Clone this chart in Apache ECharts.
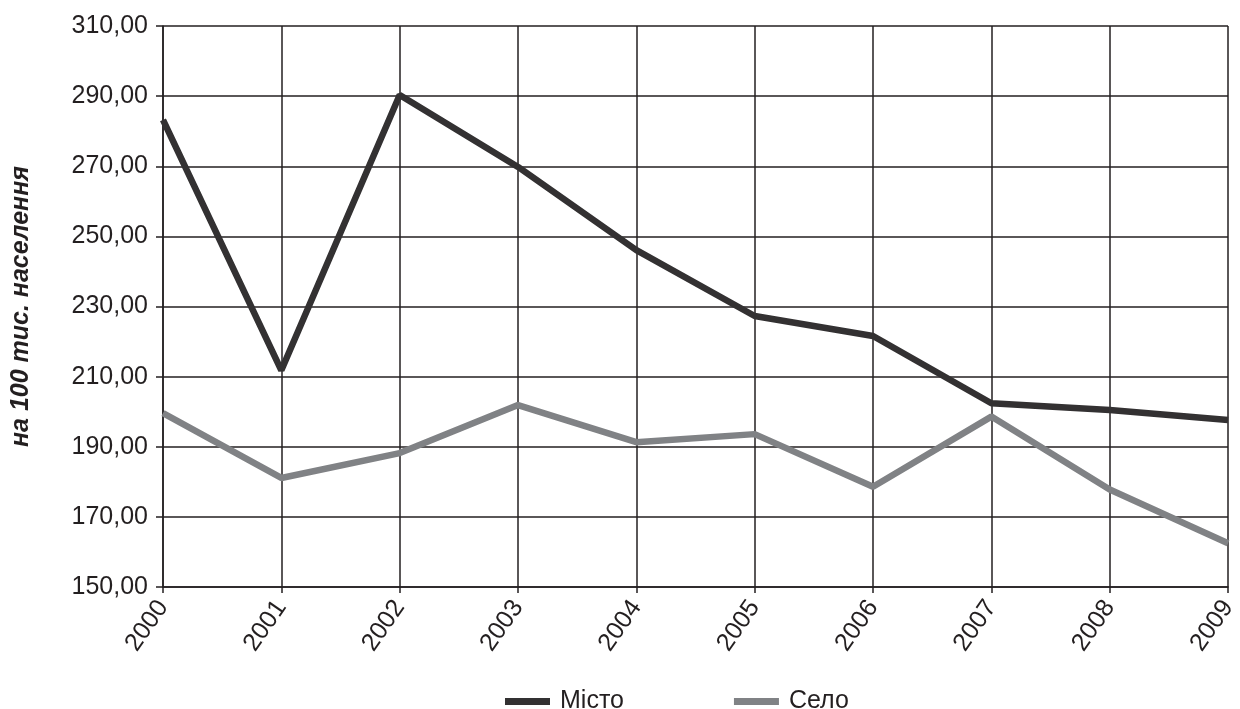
<!DOCTYPE html>
<html>
<head>
<meta charset="utf-8">
<script src="https://cdn.jsdelivr.net/npm/echarts@6/dist/echarts.min.js"></script>
<style>html,body{margin:0;padding:0;background:#fff}#c{width:1240px;height:709px}</style>
</head>
<body>
<div id="c"></div>
<script>
const years = ['2000','2001','2002','2003','2004','2005','2006','2007','2008','2009'];
const misto = [283.2, 211.8, 290.3, 269.8, 246.1, 227.3, 221.6, 202.4, 200.5, 197.6];
const selo = [199.6, 181.1, 188.2, 201.9, 191.3, 193.6, 178.6, 198.6, 177.8, 162.5];
const yTicks = {min: 150, max: 310, interval: 20};
const seriesNames = ['Місто', 'Село'];
const yAxisName = 'на 100 тис. населення';

const chart = echarts.init(document.getElementById('c'));
const font = 'Liberation Sans, Arial, sans-serif';
chart.setOption({
  animation: false,
  backgroundColor: '#fff',
  grid: {left: 163, right: 9, top: 26, bottom: 122},
  legend: {
    top: 684, left: 500,
    itemGap: 110, itemWidth: 45, itemHeight: 7,
    icon: 'rect',
    textStyle: {fontFamily: font, fontSize: 25, color: '#231f20', padding: [0,0,0,5]},
    data: seriesNames
  },
  xAxis: {
    type: 'category', data: years, boundaryGap: false,
    axisLine: {lineStyle: {color: '#231f20', width: 1.5}},
    axisTick: {show: true, length: 6, alignWithLabel: true, lineStyle: {color: '#231f20', width: 1.5}},
    splitLine: {show: true, lineStyle: {color: '#231f20', width: 1.5}},
    axisLabel: {rotate: 55, fontFamily: font, fontSize: 25, color: '#231f20', margin: 16}
  },
  yAxis: {
    type: 'value', min: yTicks.min, max: yTicks.max, interval: yTicks.interval,
    name: yAxisName, nameLocation: 'middle', nameGap: 129,
    nameTextStyle: {fontFamily: font, fontSize: 25, fontStyle: 'italic', fontWeight: 'bold', color: '#231f20'},
    axisLine: {show: true, lineStyle: {color: '#231f20', width: 1.5}},
    axisTick: {show: true, length: 7, lineStyle: {color: '#231f20', width: 1.5}},
    splitLine: {show: true, lineStyle: {color: '#231f20', width: 1.5}},
    axisLabel: {fontFamily: font, fontSize: 25, color: '#231f20', margin: 15,
      formatter: v => v.toFixed(2).replace('.', ',')}
  },
  series: [
    {name: seriesNames[0], type: 'line', data: misto, symbol: 'none',
     lineStyle: {color: '#333132', width: 6.5}, itemStyle: {color: '#333132'}},
    {name: seriesNames[1], type: 'line', data: selo, symbol: 'none',
     lineStyle: {color: '#808285', width: 6.5}, itemStyle: {color: '#808285'}}
  ]
});
</script>
</body>
</html>
